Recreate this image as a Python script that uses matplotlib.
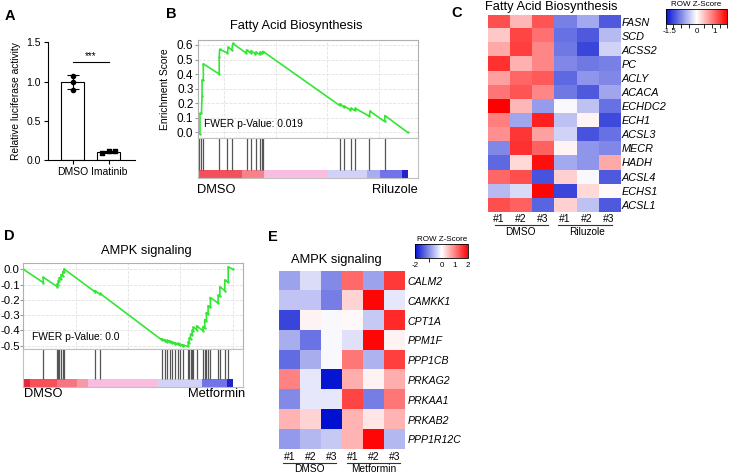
import numpy as np
import matplotlib
matplotlib.use('Agg')
import matplotlib.pyplot as plt
from matplotlib.colors import LinearSegmentedColormap
from matplotlib.lines import Line2D

plt.rcParams['font.family'] = ['Liberation Sans', 'DejaVu Sans']
plt.rcParams['axes.unicode_minus'] = False

W, H = 729, 473

# ---------------- data ----------------
# A: luciferase assay
a_groups = ['DMSO', 'Imatinib']
a_means = [1.0, 0.11]
a_sd = [0.09, 0.015]
a_points_dmso = [1.08, 1.0, 0.9]
a_points_imat = [0.09, 0.12, 0.12]
a_sig_level = 1.25

# B: GSEA fatty acid biosynthesis (rank fraction, running ES)
fa_rank = [0.0, 0.008, 0.008, 0.015, 0.018, 0.018, 0.024, 0.024, 0.1, 0.1,
           0.102, 0.139, 0.143, 0.16, 0.165, 0.228, 0.231, 0.25, 0.252, 0.272,
           0.274, 0.293, 0.295, 0.303, 0.308, 0.31, 0.675, 0.676, 0.695, 0.697,
           0.727, 0.729, 0.748, 0.75, 0.818, 0.82, 0.89, 0.892, 1.0]
fa_es = [0.0, -0.01, 0.13, 0.13, 0.25, 0.36, 0.36, 0.47, 0.40, 0.52,
         0.57, 0.545, 0.585, 0.565, 0.61, 0.545, 0.565, 0.545, 0.56, 0.54,
         0.55, 0.535, 0.55, 0.545, 0.555, 0.555, 0.185, 0.195, 0.175, 0.18,
         0.155, 0.165, 0.15, 0.165, 0.11, 0.145, 0.075, 0.115, 0.0]
fa_hits = [0.005, 0.013, 0.024, 0.1, 0.139, 0.16, 0.231, 0.252, 0.274, 0.295,
           0.303, 0.308, 0.675, 0.697, 0.729, 0.75, 0.818, 0.892]
fa_strip_edges = [0.0, 0.207, 0.314, 0.622, 0.806, 0.87, 0.973, 1.0]
fa_strip_colors = ['#f2505a', '#f7828a', '#f9bde0', '#d2d2f8', '#ababf2', '#7272ea', '#2222cc']
fa_pval = 'FWER p-Value: 0.019'

# C: heatmap fatty acid biosynthesis (row z-score)
fa_genes = ['FASN', 'SCD', 'ACSS2', 'PC', 'ACLY', 'ACACA', 'ECHDC2', 'ECH1',
            'ACSL3', 'MECR', 'HADH', 'ACSL4', 'ECHS1', 'ACSL1']
fa_z = [
    [1.17, 0.49, 1.14, -0.9, -0.6, -1.17],
    [0.37, 1.24, 0.95, -1.0, -1.17, -0.49],
    [0.58, 1.28, 0.8, -0.95, -1.31, -0.31],
    [1.38, 0.53, 0.8, -0.85, -0.95, -0.9],
    [0.63, 1.02, 1.1, -1.07, -0.75, -0.85],
    [0.92, 1.14, 0.8, -0.95, -1.17, -0.63],
    [1.7, 0.49, -0.7, -0.05, -0.43, -1.0],
    [0.85, -0.63, 1.48, -0.43, 0.07, -1.28],
    [0.75, 1.33, 0.63, -0.31, -1.22, -1.0],
    [-0.85, 1.38, 1.05, 0.07, -0.75, -0.85],
    [-1.07, 0.26, 1.6, -0.6, -0.75, 0.58],
    [1.02, 1.17, -1.22, 0.31, -0.05, -1.17],
    [-0.48, -0.26, 1.67, -1.31, 0.26, 0.05],
    [1.17, 1.05, -1.1, 0.31, -0.43, -1.17],
]
fa_groups = ['DMSO', 'Riluzole']

# D: GSEA AMPK signaling
ampk_rank = [0.0, 0.095, 0.095, 0.162, 0.162, 0.167, 0.167, 0.172, 0.172, 0.18,
             0.18, 0.188, 0.188, 0.194, 0.194, 0.342, 0.342, 0.366, 0.366, 0.66,
             0.66, 0.676, 0.676, 0.688, 0.688, 0.699, 0.699, 0.712, 0.712, 0.723,
             0.723, 0.736, 0.736, 0.747, 0.747, 0.76, 0.76, 0.787, 0.787, 0.792,
             0.792, 0.798, 0.798, 0.806, 0.806, 0.811, 0.811, 0.827, 0.827, 0.858,
             0.858, 0.866, 0.866, 0.874, 0.874, 0.882, 0.882, 0.893, 0.893, 0.93,
             0.93, 0.938, 0.938, 0.962, 0.962, 0.978, 0.978, 1.0]
ampk_es = [0.0, -0.087, -0.052, -0.114, -0.095, -0.1, -0.075, -0.08, -0.055, -0.062,
           -0.035, -0.042, -0.015, -0.02, 0.002, -0.148, -0.14, -0.165, -0.158, -0.462,
           -0.455, -0.47, -0.462, -0.474, -0.466, -0.477, -0.47, -0.482, -0.476, -0.487,
           -0.48, -0.492, -0.486, -0.497, -0.49, -0.502, -0.495, -0.505, -0.475, -0.48,
           -0.45, -0.455, -0.425, -0.43, -0.40, -0.405, -0.378, -0.395, -0.372, -0.402,
           -0.375, -0.383, -0.33, -0.338, -0.285, -0.293, -0.24, -0.25, -0.185, -0.222,
           -0.17, -0.178, -0.115, -0.14, -0.07, -0.086, 0.016, 0.0]
ampk_hits = [0.095, 0.162, 0.167, 0.172, 0.18, 0.188, 0.194, 0.342, 0.366, 0.66,
             0.676, 0.688, 0.699, 0.712, 0.723, 0.736, 0.747, 0.76, 0.787, 0.792,
             0.798, 0.806, 0.811, 0.827, 0.858, 0.866, 0.874, 0.882, 0.893, 0.93,
             0.938, 0.962, 0.978]
ampk_strip_edges = [0.0, 0.032, 0.159, 0.254, 0.31, 0.636, 0.851, 0.97, 1.0]
ampk_strip_colors = ['#e8283a', '#f7505a', '#f77582', '#f89aa5', '#f9bde0', '#d2d2f8', '#7272ea', '#2222cc']
ampk_pval = 'FWER p-Value: 0.0'

# E: heatmap AMPK signaling
ampk_genes = ['CALM2', 'CAMKK1', 'CPT1A', 'PPM1F', 'PPP1CB', 'PRKAG2', 'PRKAA1',
              'PRKAB2', 'PPP1R12C']
ampk_z = [
    [-0.8, -0.3, -1.0, 1.2, -0.8, 1.6],
    [-0.5, -0.5, -1.1, 0.35, 2.0, -0.2],
    [-1.6, 0.1, -0.05, 0.05, -0.45, 1.7],
    [-0.7, -1.2, -0.05, -0.25, 2.0, 0.1],
    [-1.25, -0.7, -0.05, 1.1, -0.65, 1.55],
    [1.0, -0.2, -2.0, 0.65, 0.1, 0.65],
    [-1.0, -0.2, -0.2, 1.5, -1.1, 1.1],
    [0.6, 0.35, -2.05, 0.6, 0.2, 0.6],
    [-0.85, -0.6, -0.45, 0.6, 2.0, -0.6],
]
ampk_groups = ['DMSO', 'Metformin']
rep_labels = ['#1', '#2', '#3']

# ---------------- helpers ----------------
fig = plt.figure(figsize=(W / 100, H / 100), dpi=100)
cmap = LinearSegmentedColormap.from_list('bwr2', ['#0010d0', '#ffffff', '#ff0000'])


def box(x0, y0, x1, y1):
    return [x0 / W, 1 - y1 / H, (x1 - x0) / W, (y1 - y0) / H]


def ftext(x, y, s, **kw):
    kw.setdefault('va', 'center')
    return fig.text(x / W, 1 - y / H, s, **kw)


def fline(x0, x1, y):
    fig.add_artist(Line2D([x0 / W, x1 / W], [1 - y / H, 1 - y / H],
                          transform=fig.transFigure, color='#333333', lw=0.8))


def gsea_panel(es_box, hit_box, rank, es, hits, edges, colors, ylim, yticks, xgrid,
               tick_fs=8.5, tick_pad=1.5):
    ax = fig.add_axes(box(*es_box))
    ax.plot(rank, es, color='#33e633', lw=1.2, marker='.', ms=1.5)
    ax.set_xlim(0, 1.05)
    ax.set_ylim(*ylim)
    ax.set_yticks(yticks)
    ax.set_yticklabels([f'{abs(v):.1f}' if abs(v) < 1e-9 else f'{v:.1f}' for v in yticks],
                       fontsize=tick_fs)
    ax.set_xticks(xgrid)
    ax.set_xticklabels([])
    ax.tick_params(axis='x', length=0)
    ax.tick_params(axis='y', length=2, pad=tick_pad, color='#999999')
    ax.grid(True, color='#e2e2e2', ls='--', lw=0.6)
    for sp in ax.spines.values():
        sp.set_color('#b0b0b0')
        sp.set_linewidth(0.8)

    hx = fig.add_axes(box(*hit_box))
    hx.set_xlim(0, 1.05)
    hx.set_ylim(0, 1)
    strip_h = 0.21
    hx.vlines(hits, strip_h, 1, color='#555555', lw=0.9)
    hx.broken_barh([(edges[i], edges[i + 1] - edges[i]) for i in range(len(colors))],
                   (0, strip_h), facecolors=colors, lw=0)
    hx.set_xticks([])
    hx.set_yticks([])
    for sp in hx.spines.values():
        sp.set_color('#c0c0c0')
        sp.set_linewidth(0.8)
    return ax


def heat_panel(hm_box, z, genes, vlim, gene_fs, gene_pad):
    ax = fig.add_axes(box(*hm_box))
    im = ax.imshow(np.array(z), cmap=cmap, vmin=-vlim, vmax=vlim,
                   aspect='auto', interpolation='nearest')
    ax.yaxis.tick_right()
    ax.set_yticks(range(len(genes)))
    ax.set_yticklabels(genes, style='italic', fontsize=gene_fs)
    ax.set_xticks(range(6))
    ax.set_xticklabels(rep_labels * 2, fontsize=7.5)
    ax.tick_params(length=0)
    ax.tick_params(axis='y', pad=gene_pad)
    ax.tick_params(axis='x', pad=2)
    for sp in ax.spines.values():
        sp.set_visible(False)
    return im


def key_bar(im, cb_box, labels, minor):
    cax = fig.add_axes(box(*cb_box))
    cb = fig.colorbar(im, cax=cax, orientation='horizontal')
    cb.outline.set_linewidth(0.6)
    cax.set_xticks(labels)
    cax.set_xticklabels([f'{v:g}' for v in labels], fontsize=5.8)
    cax.set_xticks(minor, minor=True)
    cax.tick_params(which='major', length=0, pad=3)
    cax.tick_params(which='minor', length=3, width=0.6)
    cax.set_title('ROW Z-Score', fontsize=5.8, pad=2)


# ---------------- panel A ----------------
ax = fig.add_axes(box(48, 42.5, 135, 160.5))
xs = np.arange(len(a_groups))
ax.bar(xs, a_means, width=0.63, color='white', edgecolor='black', lw=0.8, zorder=1)
ax.errorbar(xs, a_means, yerr=a_sd, fmt='none', ecolor='black', elinewidth=0.8,
            capsize=4.5, capthick=0.8, zorder=2)
ax.scatter(np.zeros(len(a_points_dmso)), a_points_dmso, s=9, color='black', zorder=3)
ax.scatter(1 + np.array([-0.19, 0.0, 0.17]), a_points_imat, s=9, color='black',
           marker='s', zorder=3)
ax.plot([0, 1], [a_sig_level, a_sig_level], color='black', lw=0.8)
ax.text(0.5, a_sig_level + 0.02, '***', ha='center', va='bottom', fontsize=7)
ax.set_xlim(-0.675, 1.72)
ax.set_ylim(0, 1.5)
ax.set_yticks([0, 0.5, 1.0, 1.5])
ax.set_yticklabels(['0.0', '0.5', '1.0', '1.5'], fontsize=7.5)
ax.set_xticks(xs)
ax.set_xticklabels(a_groups, fontsize=7.5)
ax.tick_params(length=3, width=0.8, pad=2)
ax.spines['top'].set_visible(False)
ax.spines['right'].set_visible(False)
ax.spines['left'].set_linewidth(0.8)
ax.spines['bottom'].set_linewidth(0.8)
ax.set_ylabel('Relative luciferase activity', fontsize=7.4)
ax.yaxis.set_label_coords(-0.314, 0.5)

# ---------------- panel B ----------------
bax = gsea_panel((198.3, 40, 418, 138), (198.3, 138, 418, 178.5), fa_rank, fa_es,
                 fa_hits, fa_strip_edges, fa_strip_colors, (-0.039, 0.634),
                 [0.0, 0.1, 0.2, 0.3, 0.4, 0.5, 0.6], [0.123, 0.37, 0.617, 0.864])
bax.set_ylabel('Enrichment Score', fontsize=7.4)
bax.yaxis.set_label_coords(-0.129, 0.5)
ftext(296.7, 26, 'Fatty Acid Biosynthesis', ha='center', fontsize=9.3)
ftext(204, 124, fa_pval, ha='left', fontsize=7.4)
ftext(197.5, 190, 'DMSO', ha='left', fontsize=9.3)
ftext(418, 190, 'Riluzole', ha='right', fontsize=9.3)

# ---------------- panel C ----------------
im_c = heat_panel((487.7, 14.7, 620, 211.7), fa_z, fa_genes, 1.7, 7.8, 1)
key_bar(im_c, (665.7, 9, 727.3, 24.3), [-1.5, 0, 1], np.linspace(-1.7, 1.7, 9))
ftext(551, 7, 'Fatty Acid Biosynthesis', ha='center', fontsize=9.3)
fline(495, 547.7, 225)
fline(558, 611.7, 225)
ftext(520.7, 231.5, fa_groups[0], ha='center', fontsize=7.3)
ftext(586.7, 231.5, fa_groups[1], ha='center', fontsize=7.3)

# ---------------- panel D ----------------
gsea_panel((23.3, 263.3, 243.3, 349.3), (23.3, 349.3, 243.3, 386.5), ampk_rank,
           ampk_es, ampk_hits, ampk_strip_edges, ampk_strip_colors, (-0.524, 0.039),
           [0.0, -0.1, -0.2, -0.3, -0.4, -0.5], [0.25, 0.5, 0.75, 1.0],
           tick_fs=8.2, tick_pad=0.6)
ftext(146.3, 251, 'AMPK signaling', ha='center', fontsize=9.3)
ftext(31.7, 336.7, ampk_pval, ha='left', fontsize=7.4)
ftext(24, 393.5, 'DMSO', ha='left', fontsize=9.3)
ftext(245, 393.5, 'Metformin', ha='right', fontsize=9.3)

# ---------------- panel E ----------------
im_e = heat_panel((279.3, 271, 405, 449.3), ampk_z, ampk_genes, 2.05, 7.6, 2)
key_bar(im_e, (415, 244, 468.3, 258.3), [-2, 0, 1, 2], [-2, -1, 0, 1, 2])
ftext(336.7, 260, 'AMPK signaling', ha='center', fontsize=9.3)
fline(282.7, 336, 462.7)
fline(346.7, 400, 462.7)
ftext(309.3, 468.5, ampk_groups[0], ha='center', fontsize=7.3)
ftext(373.3, 468.5, ampk_groups[1], ha='center', fontsize=7.3)

# ---------------- panel letters ----------------
for letter, (lx, ly) in zip('ABCDE', [(9.5, 16), (171, 14), (457, 13), (9, 236), (273, 237)]):
    ftext(lx, ly, letter, ha='center', fontsize=10.5, fontweight='bold')

fig.savefig('out.png', dpi=100)
